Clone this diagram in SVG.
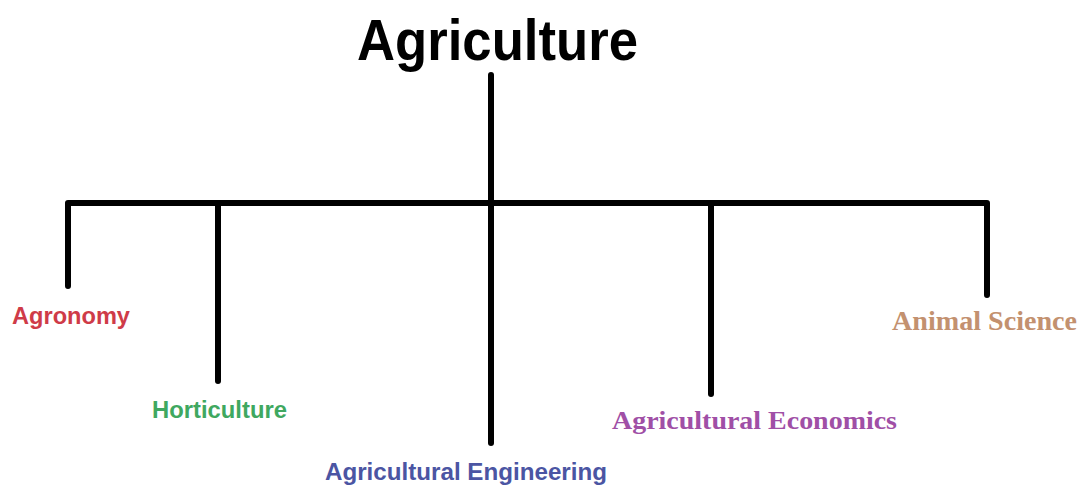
<svg xmlns="http://www.w3.org/2000/svg" width="1085" height="488" viewBox="0 0 1085 488">
  <style>
    .line { fill: none; stroke: #000; stroke-width: 6; stroke-linecap: round; stroke-linejoin: round; }
    .sans { font-family: "Liberation Sans", Arial, sans-serif; font-weight: bold; }
    .serif { font-family: "Liberation Serif", "Times New Roman", serif; font-weight: bold; }
  </style>
  <rect width="1085" height="488" fill="#fff"/>
  <g id="connectors">
    <path class="line" d="M491,75 V443"/>
    <path class="line" d="M68,286 V203 H987 V295"/>
    <path class="line" d="M218,203 V381"/>
    <path class="line" d="M711,203 V394"/>
  </g>
  <g id="agriculture">
    <text class="sans" x="357" y="60" font-size="58" textLength="281" lengthAdjust="spacingAndGlyphs" fill="#000">Agriculture</text>
  </g>
  <g id="agronomy">
    <text class="sans" x="12" y="324" font-size="24" textLength="118" lengthAdjust="spacingAndGlyphs" fill="#cf3b48">Agronomy</text>
  </g>
  <g id="horticulture">
    <text class="sans" x="152" y="418" font-size="24" textLength="135" lengthAdjust="spacingAndGlyphs" fill="#3fa860">Horticulture</text>
  </g>
  <g id="agricultural-engineering">
    <text class="sans" x="325" y="480" font-size="24" textLength="282" lengthAdjust="spacingAndGlyphs" fill="#4b55a3">Agricultural Engineering</text>
  </g>
  <g id="agricultural-economics">
    <text class="serif" x="612" y="429" font-size="26" textLength="285" lengthAdjust="spacingAndGlyphs" fill="#a04fa6">Agricultural Economics</text>
  </g>
  <g id="animal-science">
    <text class="serif" x="892" y="330" font-size="27" textLength="185" lengthAdjust="spacingAndGlyphs" fill="#c3916f">Animal Science</text>
  </g>
</svg>
